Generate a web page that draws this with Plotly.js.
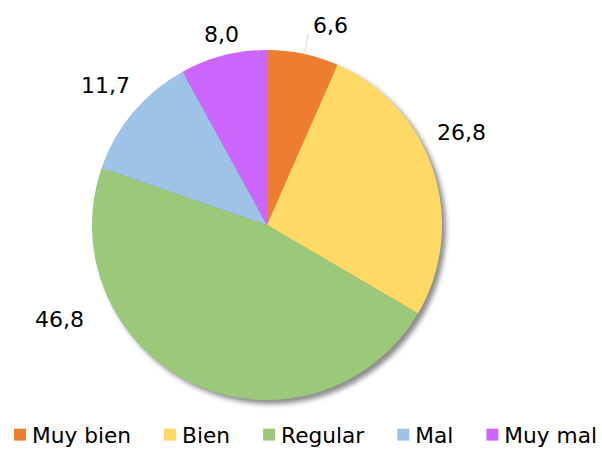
<!DOCTYPE html>
<html><head><meta charset="utf-8">
<script src="https://cdn.plot.ly/plotly-3.0.1.min.js"></script>
<style>html,body{margin:0;padding:0;background:#fff}</style>
</head><body>
<div id="chart" style="width:602px;height:450px"></div>
<script>
var categories = ["Muy bien", "Bien", "Regular", "Mal", "Muy mal"];
var values = [6.6, 26.8, 46.8, 11.7, 8.0];
var colors = ["#ED7D31", "#FFD966", "#9BC879", "#9DC3E6", "#CC66FF"];

// label placement (pixels in the 602x450 frame), layout only
var labelPos = [[330, 25], [461, 132], [59, 319], [105, 85], [221, 34]];

var W = 602, H = 450;
var dom = {x: [0.1528, 0.7342], y: [0.1111, 0.8889]};
var shadow = {
  type: "pie", labels: categories, values: values, sort: false, direction: "clockwise", rotation: 0,
  marker: {colors: categories.map(function(){return "rgba(0,0,0,0.45)";}), line: {width: 0}},
  textinfo: "none", hoverinfo: "skip", showlegend: false,
  domain: {x: [dom.x[0] + 4/W, dom.x[1] + 4/W], y: [dom.y[0] - 4/H, dom.y[1] - 4/H]}
};
var main = {
  type: "pie", labels: categories, values: values, sort: false, direction: "clockwise", rotation: 0,
  marker: {colors: colors, line: {width: 0}},
  textinfo: "none",
  domain: dom, automargin: false
};
function fmt(v){ return v.toFixed(1).replace(".", ","); }
var annotations = values.map(function(v, i){
  return {text: fmt(v), xref: "paper", yref: "paper", x: labelPos[i][0]/W, y: 1 - labelPos[i][1]/H,
          xanchor: "center", yanchor: "middle", showarrow: false,
          font: {family: "DejaVu Sans", size: 22, color: "#000"}};
});
var layout = {
  width: W, height: H, margin: {l: 0, r: 0, t: 0, b: 0},
  separators: ",.",
  paper_bgcolor: "#fff",
  font: {family: "DejaVu Sans", size: 21.7, color: "#000"},
  showlegend: true,
  legend: {orientation: "h", x: 0.5, xanchor: "center", y: 0, yanchor: "bottom", font: {size: 21.7}, traceorder: "normal", itemwidth: 30},
  annotations: annotations,
  shapes: [{type: "line", xref: "paper", yref: "paper", x0: 305/W, y0: 1 - 52/H, x1: 308/W, y1: 1 - 34/H,
            line: {color: "#d9d9d9", width: 1}}]
};
Plotly.newPlot("chart", [shadow, main], layout, {displayModeBar: false}).then(function(){
  var svg = document.querySelector("#chart svg.main-svg");
  var defs = svg.querySelector("defs");
  var ns = "http://www.w3.org/2000/svg";
  var f = document.createElementNS(ns, "filter");
  f.setAttribute("id", "shblur");
  f.setAttribute("x", "-10%"); f.setAttribute("y", "-10%");
  f.setAttribute("width", "120%"); f.setAttribute("height", "120%");
  var b = document.createElementNS(ns, "feGaussianBlur");
  b.setAttribute("stdDeviation", "2.5");
  f.appendChild(b); defs.appendChild(f);
  var tr = document.querySelectorAll("#chart .pielayer .trace");
  if (tr.length) tr[0].setAttribute("filter", "url(#shblur)");
  // nudge legend a little lower, as in the reference
  var lg = document.querySelector("#chart g.legend");
  if (lg) {
    var t = lg.getAttribute("transform") || "";
    lg.setAttribute("transform", t + " translate(0,6)");
    lg.querySelectorAll("[clip-path]").forEach(function(el){ el.removeAttribute("clip-path"); });
    // bring legend text closer to its swatch
    lg.querySelectorAll("text.legendtext").forEach(function(el){
      var x = parseFloat(el.getAttribute("x") || "40");
      el.setAttribute("x", x - 8);
    });
    // spread the entries a bit wider, as in the reference
    lg.querySelectorAll("g.traces").forEach(function(g, i){
      var tt = g.getAttribute("transform") || "";
      g.setAttribute("transform", tt + " translate(" + (i * 6 - 7.5) + ",0)");
    });
  }
});
</script>
</body></html>
